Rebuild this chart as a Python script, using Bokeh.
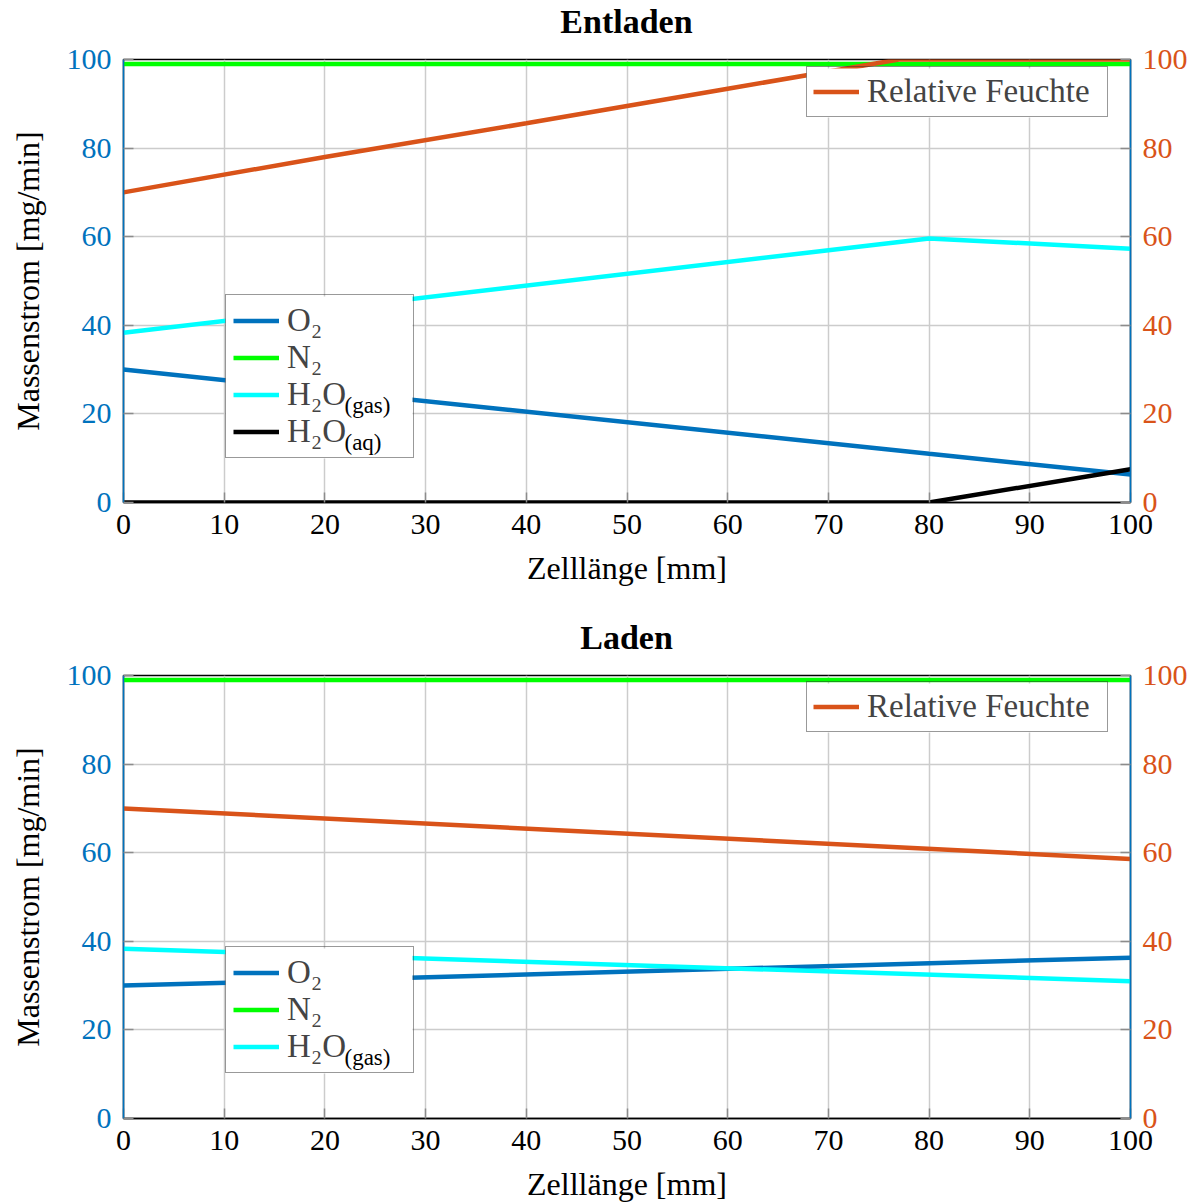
from bokeh.plotting import figure
from bokeh.models import (Range1d, LinearAxis, Legend, LegendItem, Label,
                          FixedTicker, BoxAnnotation, Div)
from bokeh.layouts import column
from bokeh.embed import file_html
from bokeh.resources import INLINE

# ---- Entladen: Massenströme entlang der Zelle [mg/min] ----
x_ent = [0, 80, 100]
o2_ent = [30.0, 11.0, 6.3]
n2_ent = [99.0, 99.0, 99.0]
h2o_gas_ent = [38.3, 59.6, 57.3]
h2o_aq_ent = [0.0, 0.0, 7.5]
# relative Feuchte [%]
x_rh_ent = [0, 20, 40, 60, 77, 80, 100]
rh_ent = [70.0, 78.0, 85.6, 93.4, 100.0, 100.0, 100.0]

# ---- Laden ----
x_lad = [0, 100]
o2_lad = [30.0, 36.3]
n2_lad = [99.0, 99.0]
h2o_gas_lad = [38.3, 31.0]
rh_lad = [70.0, 58.6]

x_ticks = list(range(0, 101, 10))
y_ticks = list(range(0, 101, 20))

FONT = "Liberation Serif"
BLUE = "#0072BD"
ORANGE = "#D95319"
GREEN = "#00FF00"
CYAN = "#00FFFF"
GRID = "#cccccc"
TICK = "#8c8c8c"
FRAME_W, FRAME_H = 1007, 443
BORDER_L, BORDER_R = 123, 70
HEAD_H = 40          # height of the heading strip above each panel
TOP = 19             # remaining gap between heading strip and frame
LW = 4.5

# legend geometry (px inside the frame)
LEG_PAD, LEG_GLYPH, LEG_STANDOFF, ROW_H, ROW_GAP = 7, 46, 8, 37, 0
H2O_TEXT_W = 58  # width of "H₂O" in the legend font


def px_to_data(px_left, px_top):
    return px_left / FRAME_W * 100.0, 100.0 - px_top / FRAME_H * 100.0


def heading(text):
    # bold heading centred over the plot frame
    pad = BORDER_L - BORDER_R
    return Div(text=text, width=BORDER_L + FRAME_W + BORDER_R, height=HEAD_H,
               margin=0,
               styles={"font-family": FONT, "font-size": "34px",
                       "font-weight": "bold", "color": "black",
                       "text-align": "center", "line-height": "44px",
                       "padding-left": f"{pad}px", "box-sizing": "border-box",
                       "background-color": "white"})


def style_axis(ax, line_color, label_color):
    ax.axis_line_color = line_color
    ax.axis_line_width = 1.5
    ax.major_tick_in = 10
    ax.major_tick_out = 0
    ax.major_tick_line_color = TICK
    ax.major_tick_line_width = 1.5
    ax.minor_tick_line_color = None
    ax.major_label_text_font = FONT
    ax.major_label_text_font_size = "30px"
    ax.major_label_text_color = label_color
    ax.axis_label_text_font = FONT
    ax.axis_label_text_font_size = "32px"
    ax.axis_label_text_font_style = "normal"
    ax.axis_label_text_color = "black"


def make_panel(border_bottom):
    p = figure(frame_width=FRAME_W, frame_height=FRAME_H, title=None,
               x_range=Range1d(0, 100), y_range=Range1d(0, 100),
               output_backend="svg", toolbar_location=None,
               min_border_left=BORDER_L, min_border_right=BORDER_R,
               min_border_top=TOP, min_border_bottom=border_bottom, margin=0)
    p.extra_y_ranges = {"rh": Range1d(0, 100)}
    p.outline_line_color = "black"
    p.outline_line_width = 1.5
    p.background_fill_color = "white"
    p.border_fill_color = "white"

    xax = p.xaxis[0]
    xax.ticker = FixedTicker(ticks=x_ticks)
    xax.axis_label = "Zelllänge [mm]"
    style_axis(xax, "black", "black")
    xax.major_label_standoff = 12
    xax.axis_label_standoff = 13

    yax = p.yaxis[0]
    yax.ticker = FixedTicker(ticks=y_ticks)
    yax.axis_label = "Massenstrom [mg/min]"
    style_axis(yax, BLUE, BLUE)
    yax.major_label_standoff = 12
    yax.axis_label_standoff = 18

    rax = LinearAxis(y_range_name="rh", ticker=FixedTicker(ticks=y_ticks))
    style_axis(rax, BLUE, ORANGE)
    rax.major_label_standoff = 12
    p.add_layout(rax, "right")

    p.xgrid.ticker = FixedTicker(ticks=x_ticks)
    p.ygrid.ticker = FixedTicker(ticks=y_ticks)
    for g in (p.xgrid[0], p.ygrid[0]):
        g.grid_line_color = GRID
        g.grid_line_width = 1.5
    return p


def style_legend(leg, label_width, padding):
    leg.label_text_font = FONT
    leg.label_text_font_size = "33px"
    leg.glyph_width = LEG_GLYPH
    leg.glyph_height = ROW_H
    leg.label_height = ROW_H
    leg.label_width = label_width
    leg.label_standoff = LEG_STANDOFF
    leg.padding = padding
    leg.spacing = ROW_GAP
    leg.margin = 0
    leg.border_line_color = "#333333"
    leg.border_line_width = 1.5
    leg.background_fill_alpha = 0.0


def add_legend_box(p, loc, w, h):
    # white backing behind a transparent legend
    left, top = px_to_data(loc[0], FRAME_H - loc[1] - h)
    right, bottom = px_to_data(loc[0] + w, FRAME_H - loc[1])
    p.add_layout(BoxAnnotation(left=left, right=right, top=top, bottom=bottom,
                               fill_color="white", fill_alpha=1.0,
                               line_color=None))


def add_species_legend(p, items, loc, subscripts):
    n = len(items)
    label_w = 119
    leg_w = 2 * LEG_PAD + LEG_GLYPH + LEG_STANDOFF + label_w
    leg_h = 2 * LEG_PAD + n * ROW_H + (n - 1) * ROW_GAP
    add_legend_box(p, loc, leg_w, leg_h)
    leg = Legend(items=items, location=loc)
    style_legend(leg, label_w, LEG_PAD)
    p.add_layout(leg)
    leg_top = FRAME_H - loc[1] - leg_h
    text_left = loc[0] + LEG_PAD + LEG_GLYPH + LEG_STANDOFF
    for row, sub in subscripts:
        cy = leg_top + LEG_PAD + ROW_H / 2 + row * (ROW_H + ROW_GAP) + 9
        sx, sy = px_to_data(text_left + H2O_TEXT_W, cy)
        p.add_layout(Label(x=sx, y=sy, text=sub, text_font=FONT,
                           text_font_size="23px", text_baseline="middle",
                           text_align="left", text_color="black"))


def add_rh_legend(p, r_rh, loc):
    label_w, pad = 234, 6
    add_legend_box(p, loc, 2 * pad + LEG_GLYPH + LEG_STANDOFF + label_w,
                   2 * pad + ROW_H)
    leg = Legend(items=[LegendItem(label="Relative Feuchte", renderers=[r_rh])],
                 location=loc)
    style_legend(leg, label_w, pad)
    p.add_layout(leg)


# ---------------- Entladen ----------------
p1 = make_panel(114)
r1 = p1.line(x_ent, o2_ent, line_width=LW, color=BLUE)
r2 = p1.line(x_ent, n2_ent, line_width=LW, color=GREEN)
r3 = p1.line(x_ent, h2o_gas_ent, line_width=LW, color=CYAN)
r4 = p1.line(x_ent, h2o_aq_ent, line_width=LW, color="black")
r5 = p1.line(x_rh_ent, rh_ent, line_width=LW, color=ORANGE, y_range_name="rh")
add_species_legend(p1, [LegendItem(label="O₂", renderers=[r1]),
                        LegendItem(label="N₂", renderers=[r2]),
                        LegendItem(label="H₂O", renderers=[r3]),
                        LegendItem(label="H₂O", renderers=[r4])],
                   (102, 44), [(2, "(gas)"), (3, "(aq)")])
add_rh_legend(p1, r5, (683, 385))

# ---------------- Laden ----------------
p2 = make_panel(84)
q1 = p2.line(x_lad, o2_lad, line_width=LW, color=BLUE)
q2 = p2.line(x_lad, n2_lad, line_width=LW, color=GREEN)
q3 = p2.line(x_lad, h2o_gas_lad, line_width=LW, color=CYAN)
q5 = p2.line(x_lad, rh_lad, line_width=LW, color=ORANGE, y_range_name="rh")
add_species_legend(p2, [LegendItem(label="O₂", renderers=[q1]),
                        LegendItem(label="N₂", renderers=[q2]),
                        LegendItem(label="H₂O", renderers=[q3])],
                   (102, 45), [(2, "(gas)")])
add_rh_legend(p2, q5, (683, 386))

layout = column(heading("Entladen"), p1, heading("Laden"), p2,
                spacing=0, margin=0)
open("out.html", "w").write(file_html(layout, INLINE))
